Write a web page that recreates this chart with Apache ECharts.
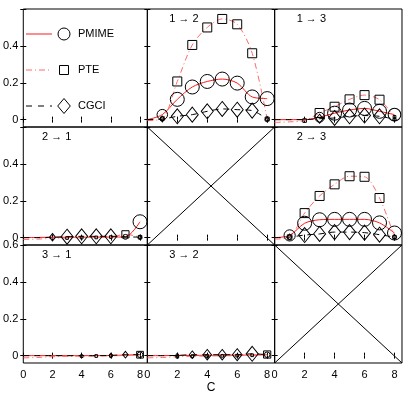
<!DOCTYPE html>
<html>
<head>
<meta charset="utf-8">
<script src="https://cdn.jsdelivr.net/npm/echarts@6/dist/echarts.min.js"></script>
<style>
html, body { margin: 0; padding: 0; background: #fff; }
#chart { width: 409px; height: 398px; }
</style>
</head>
<body>
<div id="chart"></div>
<script>
// coupling strength C
const C = [0, 1, 2, 3, 4, 5, 6, 7, 8];
const xTicks = [0, 2, 4, 6, 8];
const yTicks = [0, 0.2, 0.4, 0.6];
const X_MIN = 0, X_MAX = 8.5, Y_MIN = -0.04, Y_MAX = 0.6;

// 1 -> 2
const pmime12 = [0, 0.027, 0.11, 0.177, 0.207, 0.22, 0.198, 0.123, 0.114];
const pte12 = [-0.005, 0.005, 0.207, 0.405, 0.50, 0.546, 0.517, 0.36, 0.003];
const cgci12 = [0, 0.003, 0.018, 0.027, 0.045, 0.058, 0.054, 0.049, 0.002];
// 1 -> 3
const pmime13 = [0, 0, 0, 0.013, 0.035, 0.052, 0.061, 0.045, 0.027];
const pte13 = [-0.015, -0.012, -0.005, 0.036, 0.07, 0.11, 0.133, 0.108, 0.015];
const cgci13 = [0, 0, 0, 0.005, 0.009, 0.018, 0.022, 0.018, 0.002];
// 2 -> 1
const pmime21 = [0, 0.001, 0.002, 0.002, 0.002, 0.003, 0.003, 0.004, 0.086];
const pte21 = [-0.01, -0.008, -0.004, -0.002, 0, 0.001, 0.003, 0.018, 0.002];
const cgci21 = [0, 0, 0.002, 0.005, 0.007, 0.007, 0.007, 0.005, 0.002];
// 2 -> 3
const pmime23 = [0, 0.012, 0.078, 0.097, 0.099, 0.099, 0.099, 0.08, 0.025];
const pte23 = [-0.008, 0.003, 0.133, 0.226, 0.289, 0.333, 0.33, 0.215, 0.003];
const cgci23 = [0, 0.003, 0.014, 0.02, 0.03, 0.03, 0.027, 0.016, 0.003];
// 3 -> 1
const pmime31 = [0, 0, 0, 0, 0, 0, 0.001, 0.003, 0.005];
const pte31 = [-0.012, -0.01, -0.006, -0.004, -0.003, -0.002, -0.001, 0.001, 0.005];
const cgci31 = [0, 0, 0, 0, 0, 0, 0.001, 0.005, 0.005];
// 3 -> 2
const pmime32 = [0, 0, 0.001, 0.001, 0.002, 0.002, 0.003, 0.003, 0.005];
const pte32 = [-0.012, -0.01, -0.006, -0.004, -0.002, -0.001, 0, 0.002, 0.006];
const cgci32 = [0, 0, 0.001, 0.005, 0.005, 0.005, 0.005, 0.01, 0.005];

// share of significant results (marker size), null = no marker
const sigPmime12 = [null, 0.75, 1, 1, 1, 1, 1, 1, 1];
const sigPte12 = [null, 0.4, 1, 1, 1, 1, 1, 1, 0.45];
const sigCgci12 = [null, 0.4, 1, 1, 1, 1, 1, 1, 0.35];
const sigPmime13 = [null, null, null, 0.7, 1, 1, 1, 1, 0.9];
const sigPte13 = [null, null, 0.4, 1, 1, 1, 1, 1, 0.3];
const sigCgci13 = [null, null, null, 0.6, 1, 1, 1, 1, 0.3];
const sigPmime21 = [null, null, null, null, null, null, null, 0.35, 1];
const sigPte21 = [null, null, null, 0.3, 0.3, 0.3, 0.3, 0.8, 0.4];
const sigCgci21 = [null, null, 0.5, 1, 1, 1, 1, null, 0.3];
const sigPmime23 = [null, 0.8, 1, 1, 1, 1, 1, 1, 1];
const sigPte23 = [null, 0.5, 1, 1, 1, 1, 1, 1, 0.35];
const sigCgci23 = [null, 0.4, 1, 1, 1, 1, 1, 1, 0.35];
const sigPmime31 = [null, null, null, null, null, null, null, null, 0.4];
const sigPte31 = [null, null, null, null, 0.3, 0.3, 0.3, null, 0.75];
const sigCgci31 = [null, null, null, null, null, null, 0.3, 0.45, null];
const sigPmime32 = [null, null, null, null, null, null, null, null, 0.4];
const sigPte32 = [null, null, 0.3, 0.3, 0.3, 0.3, 0.3, 0.3, 0.8];
const sigCgci32 = [null, null, 0.3, 0.5, 0.7, 0.7, 0.8, 1, null];

const panels = [
    { row: 0, col: 1, label: '1 → 2', pmime: pmime12, pte: pte12, cgci: cgci12, sp: sigPmime12, st: sigPte12, sc: sigCgci12 },
    { row: 0, col: 2, label: '1 → 3', pmime: pmime13, pte: pte13, cgci: cgci13, sp: sigPmime13, st: sigPte13, sc: sigCgci13 },
    { row: 1, col: 0, label: '2 → 1', pmime: pmime21, pte: pte21, cgci: cgci21, sp: sigPmime21, st: sigPte21, sc: sigCgci21 },
    { row: 1, col: 2, label: '2 → 3', pmime: pmime23, pte: pte23, cgci: cgci23, sp: sigPmime23, st: sigPte23, sc: sigCgci23 },
    { row: 2, col: 0, label: '3 → 1', pmime: pmime31, pte: pte31, cgci: cgci31, sp: sigPmime31, st: sigPte31, sc: sigCgci31 },
    { row: 2, col: 1, label: '3 → 2', pmime: pmime32, pte: pte32, cgci: cgci32, sp: sigPmime32, st: sigPte32, sc: sigCgci32 }
];
const crossCells = [[1, 1], [2, 2]];

const FONT = '"Liberation Sans", Arial, sans-serif';
const GL = 20, GT = 9, GW = 127.33, GH = 118;
const RED = '#ff1a1a', PINK = '#ff6b6b';

const grids = [], xAxes = [], yAxes = [], series = [], titles = [];

for (let r = 0; r < 3; r++) {
    for (let c = 0; c < 3; c++) {
        const gi = r * 3 + c;
        grids.push({
            left: GL + c * GW, top: GT + r * GH, width: GW, height: GH,
            show: true, borderColor: '#000', borderWidth: 1, backgroundColor: 'transparent'
        });
        ['bottom', 'top'].forEach(pos => {
            xAxes.push({
                gridIndex: gi, type: 'value', position: pos, min: X_MIN, max: X_MAX,
                axisLine: { show: false },
                splitLine: { show: false },
                axisTick: { show: true, inside: true, length: 3, customValues: xTicks, lineStyle: { color: '#000' } },
                axisLabel: {
                    show: pos === 'bottom' && r === 2, customValues: xTicks, margin: 6,
                    color: '#000', fontSize: 11, fontFamily: FONT
                },
                name: (pos === 'bottom' && r === 2 && c === 1) ? 'C' : '',
                nameLocation: 'middle', nameGap: 19,
                nameTextStyle: { color: '#000', fontSize: 12, fontFamily: FONT }
            });
        });
        ['left', 'right'].forEach(pos => {
            yAxes.push({
                gridIndex: gi, type: 'value', position: pos, min: Y_MIN, max: Y_MAX,
                axisLine: { show: false },
                splitLine: { show: false },
                axisTick: { show: true, inside: true, length: 3, customValues: yTicks, lineStyle: { color: '#000' } },
                axisLabel: {
                    show: pos === 'left' && c === 0,
                    customValues: r === 2 ? yTicks : [0, 0.2, 0.4],
                    margin: 5, color: '#000', fontSize: 11, fontFamily: FONT
                }
            });
        });
    }
}

function sizeFn(sig, full) {
    return function (v, p) {
        const s = sig[p.dataIndex];
        if (s == null) return 0;
        return Array.isArray(full) ? full.map(f => f * s) : full * s;
    };
}

function line(gi, name, ys, sig, symbol, full, lineStyle) {
    return {
        type: 'line', name: name,
        xAxisIndex: gi * 2, yAxisIndex: gi * 2,
        data: C.map((x, i) => [x, ys[i]]),
        smooth: 0.3,
        symbol: symbol,
        symbolSize: sizeFn(sig, full),
        showAllSymbol: true,
        lineStyle: lineStyle,
        itemStyle: { color: 'rgba(0,0,0,0)', borderColor: '#000', borderWidth: 1 },
        silent: true
    };
}

panels.forEach(p => {
    const gi = p.row * 3 + p.col;
    series.push(line(gi, 'PMIME', p.pmime, p.sp, 'circle', 14, { color: RED, width: 1 }));
    series.push(line(gi, 'PTE', p.pte, p.st, 'rect', 9, { color: PINK, width: 1, type: [6, 3, 1, 3] }));
    series.push(line(gi, 'CGCI', p.cgci, p.sc, 'diamond', [12, 15], { color: '#000', width: 1, type: [6, 5] }));
    titles.push({
        text: p.label, left: GL + p.col * GW + 22, top: GT + p.row * GH + 4, padding: 0,
        textStyle: { fontSize: 11, fontWeight: 'normal', color: '#000', fontFamily: FONT }
    });
});

crossCells.forEach(([r, c]) => {
    const gi = r * 3 + c;
    [[[X_MIN, Y_MIN], [X_MAX, Y_MAX]], [[X_MIN, Y_MAX], [X_MAX, Y_MIN]]].forEach(d => {
        series.push({
            type: 'line', xAxisIndex: gi * 2, yAxisIndex: gi * 2, data: d,
            symbol: 'none', lineStyle: { color: '#000', width: 1 }, silent: true
        });
    });
});

// legend drawn inside the empty top-left cell
const legendItems = [
    { name: 'PMIME', y: 34, stroke: RED, dash: null, shape: 'circle' },
    { name: 'PTE', y: 70, stroke: PINK, dash: [6, 3, 1, 3], shape: 'rect' },
    { name: 'CGCI', y: 106, stroke: '#000', dash: [6, 6], shape: 'diamond' }
];
const graphic = [];
legendItems.forEach(it => {
    graphic.push({
        type: 'line', shape: { x1: 26, y1: it.y, x2: 52, y2: it.y },
        style: { stroke: it.stroke, lineWidth: 1, lineDash: it.dash }
    });
    if (it.shape === 'circle') {
        graphic.push({ type: 'circle', shape: { cx: 64, cy: it.y, r: 6 }, style: { fill: 'none', stroke: '#000', lineWidth: 1 } });
    } else if (it.shape === 'rect') {
        graphic.push({ type: 'rect', shape: { x: 59.5, y: it.y - 4.5, width: 9, height: 9 }, style: { fill: 'none', stroke: '#000', lineWidth: 1 } });
    } else {
        graphic.push({
            type: 'polygon',
            shape: { points: [[64, it.y - 7.5], [70.3, it.y], [64, it.y + 7.5], [57.7, it.y]] },
            style: { fill: 'none', stroke: '#000', lineWidth: 1 }
        });
    }
    graphic.push({
        type: 'text', x: 78, y: it.y,
        style: { text: it.name, fill: '#000', font: '11px ' + FONT, verticalAlign: 'middle' }
    });
});

const chart = echarts.init(document.getElementById('chart'), null, { renderer: 'canvas' });
chart.setOption({
    animation: false,
    backgroundColor: '#fff',
    title: titles,
    grid: grids,
    xAxis: xAxes,
    yAxis: yAxes,
    series: series,
    graphic: graphic
});
</script>
</body>
</html>
